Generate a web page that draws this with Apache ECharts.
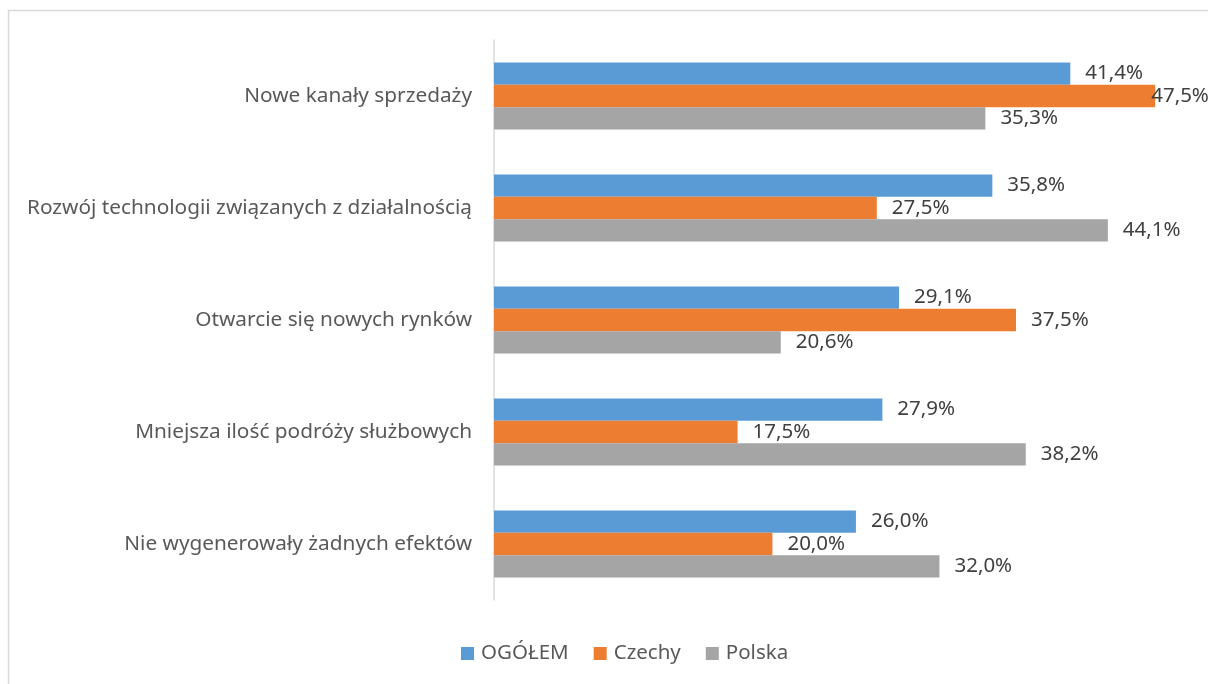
<!DOCTYPE html>
<html>
<head>
<meta charset="utf-8">
<script src="https://cdn.jsdelivr.net/npm/echarts@6/dist/echarts.min.js"></script>
<style>
  html, body { margin: 0; padding: 0; background: #fff; }
  #chart { width: 1208px; height: 684px; }
</style>
</head>
<body>
<div id="chart"></div>
<script>
// categories top to bottom
const categories = [
    'Nowe kanały sprzedaży',
    'Rozwój technologii związanych z działalnością',
    'Otwarcie się nowych rynków',
    'Mniejsza ilość podróży służbowych',
    'Nie wygenerowały żadnych efektów'
];
const seriesNames = ['OGÓŁEM', 'Czechy', 'Polska'];
const ogolem = [41.4, 35.8, 29.1, 27.9, 26.0];
const czechy = [47.5, 27.5, 37.5, 17.5, 20.0];
const polska = [35.3, 44.1, 20.6, 38.2, 32.0];
const colors = ['#5b9bd5', '#ed7d31', '#a5a5a5'];

const font = 'Noto Sans';

// labels near the right edge get pulled back like in the source
const toData = (vals) => vals.map(v => v > 45 ? { value: v, label: { distance: -4 } } : v);

const makeSeries = (name, vals, i) => ({
    name: name,
    type: 'bar',
    data: toData(vals),
    itemStyle: { color: colors[i] },
    barGap: '0%',
    barCategoryGap: '40%',
    label: {
        show: true,
        position: 'right',
        distance: 15,
        color: '#404040',
        fontFamily: font,
        fontSize: 20.5,
        formatter: p => p.value.toFixed(1).replace('.', ',') + '%'
    }
});

const myChart = echarts.init(document.getElementById('chart'));
const option = {
    animation: false,
    color: colors,
    graphic: [{
        type: 'rect',
        shape: { x: 8.5, y: 10.5, width: 1220, height: 700 },
        style: { fill: 'none', stroke: '#d9d9d9', lineWidth: 1.5 },
        silent: true
    }],
    legend: {
        data: seriesNames,
        bottom: 15,
        left: 456,
        icon: 'rect',
        itemWidth: 13,
        itemHeight: 13,
        itemGap: 25,
        textStyle: { color: '#595959', fontFamily: font, fontSize: 20.5, padding: [0, 0, 0, 2] }
    },
    grid: { left: 494, right: 18, top: 40, bottom: 84, containLabel: false },
    xAxis: {
        type: 'value',
        min: 0,
        max: 50,
        show: false
    },
    yAxis: {
        type: 'category',
        data: categories,
        inverse: true,
        axisLine: { show: true, lineStyle: { color: '#d9d9d9', width: 1.5 } },
        axisTick: { show: false },
        axisLabel: {
            color: '#595959',
            fontFamily: font,
            fontSize: 20.8,
            margin: 22
        }
    },
    series: [
        makeSeries(seriesNames[0], ogolem, 0),
        makeSeries(seriesNames[1], czechy, 1),
        makeSeries(seriesNames[2], polska, 2)
    ]
};
myChart.setOption(option);
window.addEventListener('resize', myChart.resize);
</script>
</body>
</html>
